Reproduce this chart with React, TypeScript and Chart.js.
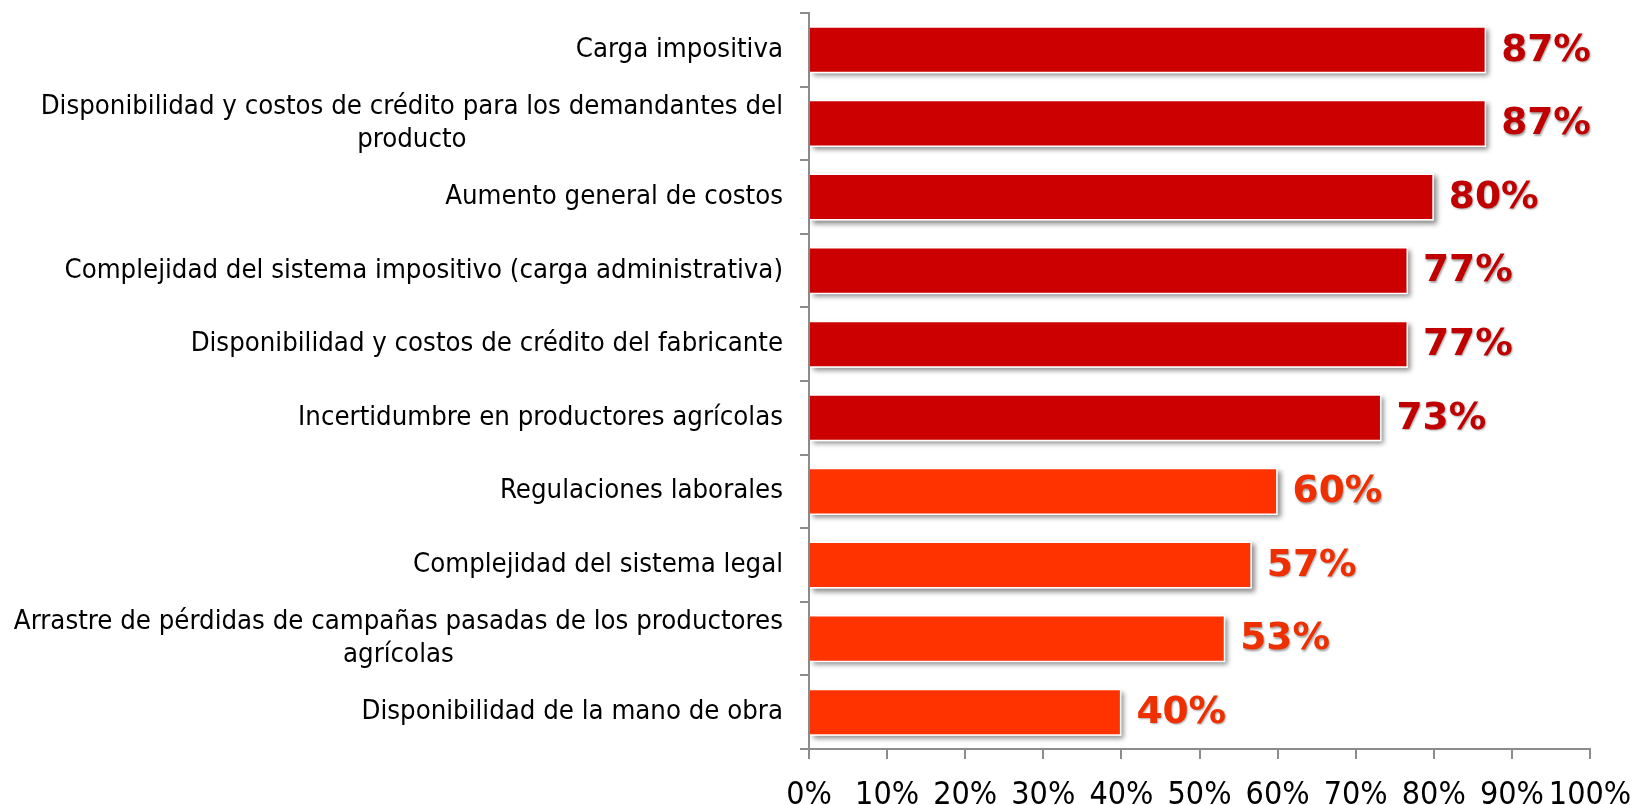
import { useEffect, useRef } from 'react';
import { Chart, registerables } from 'chart.js';

Chart.register(...registerables);

const categories: (string | string[])[] = [
  'Carga impositiva',
  ['Disponibilidad y costos de crédito para los demandantes del', 'producto'],
  'Aumento general de costos',
  'Complejidad del sistema impositivo (carga administrativa)',
  'Disponibilidad y costos de crédito del fabricante',
  'Incertidumbre en productores agrícolas',
  'Regulaciones laborales',
  'Complejidad del sistema legal',
  ['Arrastre de pérdidas de campañas pasadas de los productores', 'agrícolas'],
  'Disponibilidad de la mano de obra',
];

const values = [86.7, 86.7, 80, 76.7, 76.7, 73.3, 60, 56.7, 53.3, 40];
const valueLabels = ['87%', '87%', '80%', '77%', '77%', '73%', '60%', '57%', '53%', '40%'];
const groups = ['high', 'high', 'high', 'high', 'high', 'high', 'mid', 'mid', 'mid', 'mid'];
const xTickValues = [0, 10, 20, 30, 40, 50, 60, 70, 80, 90, 100];

const BAR_COLORS: Record<string, string> = { high: '#CC0000', mid: '#FF3300' };
const LABEL_COLORS: Record<string, string> = { high: '#C00000', mid: '#EE3000' };
const CAT_FONT = '27.3px "DejaVu Sans Condensed", "DejaVu Sans"';

export default function App() {
  const ref = useRef<HTMLCanvasElement>(null);

  useEffect(() => {
    document.body.style.margin = '0';
    const canvas = ref.current!;

    const barShadow = {
      id: 'barShadow',
      beforeDatasetsDraw(chart: any) {
        const ctx = chart.ctx;
        const meta = chart.getDatasetMeta(0);
        meta.data.forEach((bar: any) => {
          const { x, y, base, height } = bar.getProps(['x', 'y', 'base', 'height'], true);
          ctx.save();
          ctx.shadowColor = 'rgba(0,0,0,0.45)';
          ctx.shadowBlur = 5;
          ctx.shadowOffsetX = 3;
          ctx.shadowOffsetY = 3;
          ctx.fillStyle = '#ffffff';
          ctx.fillRect(base, y - height / 2, x - base, height);
          ctx.restore();
        });
      },
    };

    const valueLabelPlugin = {
      id: 'valueLabels',
      afterDatasetsDraw(chart: any) {
        const ctx = chart.ctx;
        const meta = chart.getDatasetMeta(0);
        meta.data.forEach((bar: any, i: number) => {
          const { x, y } = bar.getProps(['x', 'y'], true);
          ctx.save();
          ctx.font = 'bold 37.5px "DejaVu Sans"';
          ctx.textAlign = 'left';
          ctx.textBaseline = 'middle';
          ctx.shadowColor = 'rgba(0,0,0,0.35)';
          ctx.shadowBlur = 2;
          ctx.shadowOffsetX = 1;
          ctx.shadowOffsetY = 1.5;
          ctx.fillStyle = LABEL_COLORS[groups[i]];
          ctx.fillText(valueLabels[i], x + 15, y + 1);
          ctx.restore();
        });
      },
    };

    const catLabelPlugin = {
      id: 'catLabels',
      afterDraw(chart: any) {
        const ctx = chart.ctx;
        const yScale = chart.scales.y;
        const right = chart.chartArea.left - 26;
        ctx.save();
        ctx.font = CAT_FONT;
        ctx.fillStyle = '#000000';
        ctx.textBaseline = 'middle';
        ctx.textAlign = 'center';
        const lh = 33;
        categories.forEach((c, i) => {
          const lines = Array.isArray(c) ? c : [c];
          const maxW = Math.max(...lines.map((l) => ctx.measureText(l).width));
          const cx = right - maxW / 2;
          const cy = yScale.getPixelForTick(i);
          lines.forEach((l, j) => {
            ctx.fillText(l, cx, cy + (j - (lines.length - 1) / 2) * lh);
          });
        });
        ctx.restore();
      },
    };

    const chart = new Chart(canvas, {
      type: 'bar',
      data: {
        labels: categories.map((c) => (Array.isArray(c) ? c.join(' ') : c)),
        datasets: [
          {
            data: values,
            backgroundColor: groups.map((g) => BAR_COLORS[g]),
            borderColor: 'rgba(255,255,255,0.85)',
            borderWidth: 1.5,
            barPercentage: 0.64,
            categoryPercentage: 1,
          },
        ],
      },
      options: {
        indexAxis: 'y',
        animation: false,
        responsive: true,
        maintainAspectRatio: false,
        layout: { padding: { left: 0, top: 13, right: 44, bottom: 0 } },
        plugins: { legend: { display: false }, tooltip: { enabled: false } },
        scales: {
          x: {
            min: 0,
            max: 100,
            afterBuildTicks(scale: any) {
              scale.ticks = xTickValues.map((v) => ({ value: v }));
            },
            afterFit(scale: any) {
              scale.height = 56;
              scale.paddingLeft = 0;
              scale.paddingRight = 0;
            },
            border: { color: '#8c8c8c', width: 2 },
            grid: { drawOnChartArea: false, drawTicks: true, tickLength: 10, color: '#8c8c8c', lineWidth: 2 },
            ticks: {
              padding: 17,
              maxRotation: 0,
              autoSkip: false,
              color: '#000000',
              font: { family: '"DejaVu Sans Condensed", "DejaVu Sans"', size: 32 },
              callback: (v: any) => `${v}%`,
            },
          },
          y: {
            afterFit(scale: any) {
              scale.width = 809;
            },
            border: { color: '#8c8c8c', width: 2 },
            grid: { drawOnChartArea: false, drawTicks: true, tickLength: 9, color: '#8c8c8c', lineWidth: 2, offset: true },
            ticks: { color: 'rgba(0,0,0,0)', autoSkip: false, font: { size: 12 } },
          },
        },
      },
      plugins: [barShadow, valueLabelPlugin, catLabelPlugin],
    });

    return () => chart.destroy();
  }, []);

  return (
    <div style={{ width: 1634, height: 805, position: 'relative' }}>
      <canvas ref={ref} />
    </div>
  );
}
